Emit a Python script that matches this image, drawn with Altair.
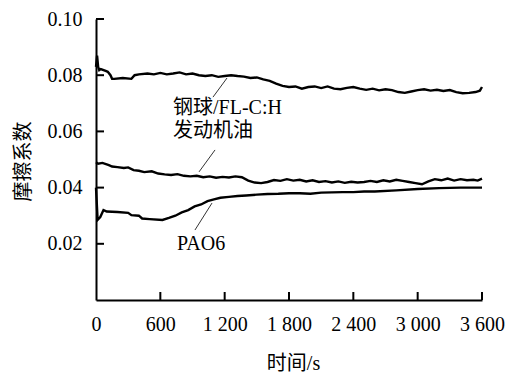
import altair as alt
import pandas as pd

# ---- data ----
t_top = [0, 10, 20, 30, 45, 90, 110, 135, 150, 170, 250, 330, 360, 400, 480, 540,
         600, 660, 720, 780, 840, 900, 960, 1020, 1080, 1140, 1200, 1260, 1320, 1380,
         1440, 1500, 1560, 1620, 1680, 1740, 1800, 1860, 1920, 1980, 2040, 2100, 2160,
         2220, 2280, 2340, 2400, 2460, 2520, 2580, 2640, 2700, 2760, 2820, 2880, 2940,
         3000, 3060, 3120, 3180, 3240, 3300, 3360, 3420, 3480, 3540, 3580, 3600]
v_top = [0.0830, 0.0870, 0.0830, 0.0818, 0.0822, 0.0815, 0.0812, 0.0800, 0.0787, 0.0787,
         0.0790, 0.0787, 0.0800, 0.0803, 0.0806, 0.0803, 0.0808, 0.0803, 0.0806, 0.0810,
         0.0803, 0.0806, 0.0800, 0.0797, 0.0800, 0.0794, 0.0797, 0.0800, 0.0797, 0.0795,
         0.0790, 0.0792, 0.0785, 0.0780, 0.0770, 0.0762, 0.0758, 0.0760, 0.0752, 0.0758,
         0.0760, 0.0754, 0.0760, 0.0752, 0.0750, 0.0755, 0.0758, 0.0752, 0.0748, 0.0752,
         0.0746, 0.0750, 0.0747, 0.0740, 0.0737, 0.0742, 0.0747, 0.0750, 0.0745, 0.0748,
         0.0744, 0.0747, 0.0740, 0.0736, 0.0737, 0.0740, 0.0745, 0.0758]

t_mid = [0, 20, 60, 120, 150, 200, 260, 300, 350, 400, 450, 520, 580, 640, 700, 760,
         820, 880, 940, 1000, 1060, 1120, 1180, 1240, 1300, 1360, 1420, 1480, 1540, 1600,
         1660, 1720, 1780, 1840, 1900, 1960, 2020, 2080, 2140, 2200, 2260, 2320, 2380,
         2440, 2500, 2560, 2620, 2680, 2740, 2800, 2860, 2920, 2980, 3040, 3100, 3160,
         3220, 3280, 3340, 3400, 3460, 3520, 3560, 3600]
v_mid = [0.0490, 0.0485, 0.0488, 0.0480, 0.0475, 0.0473, 0.0470, 0.0472, 0.0462, 0.0460,
         0.0455, 0.0458, 0.0450, 0.0447, 0.0445, 0.0448, 0.0442, 0.0440, 0.0442, 0.0437,
         0.0440, 0.0435, 0.0438, 0.0436, 0.0440, 0.0437, 0.0425, 0.0418, 0.0416, 0.0420,
         0.0427, 0.0424, 0.0430, 0.0425, 0.0428, 0.0422, 0.0426, 0.0420, 0.0423, 0.0418,
         0.0422, 0.0417, 0.0421, 0.0418, 0.0420, 0.0424, 0.0420, 0.0426, 0.0422, 0.0428,
         0.0424, 0.0420, 0.0416, 0.0412, 0.0422, 0.0430, 0.0426, 0.0432, 0.0425, 0.0430,
         0.0426, 0.0428, 0.0425, 0.0432]

t_low = [0, 15, 40, 70, 100, 200, 300, 330, 400, 430, 500, 620, 680, 740, 800, 860,
         920, 980, 1040, 1100, 1160, 1240, 1320, 1400, 1500, 1600, 1700, 1800, 1900,
         2000, 2100, 2200, 2300, 2400, 2500, 2600, 2800, 3000, 3200, 3400, 3600]
v_low = [0.0400, 0.0285, 0.0295, 0.0320, 0.0315, 0.0313, 0.0310, 0.0302, 0.0300, 0.0290,
         0.0288, 0.0285, 0.0292, 0.0300, 0.0312, 0.0320, 0.0333, 0.0340, 0.0352, 0.0358,
         0.0364, 0.0367, 0.0370, 0.0372, 0.0375, 0.0377, 0.0378, 0.0380, 0.0380, 0.0378,
         0.0382, 0.0383, 0.0384, 0.0384, 0.0386, 0.0386, 0.0390, 0.0395, 0.0398, 0.0400,
         0.0400]

x_ticks = [0, 600, 1200, 1800, 2400, 3000, 3600]
y_ticks = [0.02, 0.04, 0.06, 0.08, 0.10]

label_text = ["钢球/FL-C:H", "发动机油", "PAO6"]
label_t = [718, 718, 755]
label_v = [0.0682, 0.0602, 0.0200]

leader_t = [1222, 1110, 1082]
leader_v = [0.0790, 0.0534, 0.0345]
leader_t2 = [1091, 961, 923]
leader_v2 = [0.0722, 0.0456, 0.0249]

FONT = "'Liberation Serif', 'Times New Roman', 'Noto Sans CJK SC', serif"

rows = []
for name, ts, vs in [("top", t_top, v_top), ("mid", t_mid, v_mid), ("low", t_low, v_low)]:
    for t, v in zip(ts, vs):
        rows.append({"series": name, "t": t, "v": v})
df = pd.DataFrame(rows)

xscale = alt.Scale(domain=[0, 3600], nice=False, zero=False)
yscale = alt.Scale(domain=[0, 0.10], nice=False, zero=True)

common = dict(labelFont=FONT, labelFontSize=20, labelColor="black",
              titleFont=FONT, titleFontSize=20, titleColor="black", titleFontWeight="normal",
              domainColor="black", domainWidth=2, ticks=False, grid=False, labelFlush=False)

x_axis = alt.Axis(values=x_ticks, labelExpr="replace(format(datum.value, ','), ',', ' ')",
                  title="时间/s", titleX=197, titleY=63, titleBaseline="middle",
                  titleAnchor="start", titleAlign="center",
                  labelPadding=14, labelOverlap=False, **common)
y_axis = alt.Axis(values=y_ticks, format=".2f", title="摩擦系数",
                  titleX=-73, titleY=142, titleAngle=-90, titleBaseline="middle",
                  titleAlign="center", titleAnchor="start",
                  labelPadding=14, **common)

lines = alt.Chart(df).mark_line(color="black", strokeWidth=2.4).encode(
    x=alt.X("t:Q", scale=xscale, axis=x_axis),
    y=alt.Y("v:Q", scale=yscale, axis=y_axis),
    detail="series:N",
)

xt = alt.Chart(pd.DataFrame({"t": x_ticks[1:]})).mark_rule(color="black", strokeWidth=2).encode(
    x=alt.X("t:Q", scale=xscale), y=alt.value(281), y2=alt.value(273))
yt = alt.Chart(pd.DataFrame({"v": y_ticks})).mark_rule(color="black", strokeWidth=2).encode(
    y=alt.Y("v:Q", scale=yscale), x=alt.value(0), x2=alt.value(8))

ann = pd.DataFrame({"text": label_text, "t": label_t, "v": label_v})
texts = alt.Chart(ann).mark_text(align="left", baseline="middle", font=FONT,
                                 fontSize=20, color="black").encode(
    x=alt.X("t:Q", scale=xscale), y=alt.Y("v:Q", scale=yscale), text="text:N")

lead = pd.DataFrame({"t": leader_t, "v": leader_v, "t2": leader_t2, "v2": leader_v2})
leaders = alt.Chart(lead).mark_rule(color="black", strokeWidth=0.8).encode(
    x=alt.X("t:Q", scale=xscale), y=alt.Y("v:Q", scale=yscale), x2="t2:Q", y2="v2:Q")

chart = alt.layer(lines, xt, yt, leaders, texts).properties(
    width=386, height=281,
    autosize=alt.AutoSizeParams(type="none"),
    padding={"left": 88, "top": 11, "right": 25, "bottom": 75},
).configure_view(stroke=None)

chart.save("out.html", embed_options={"renderer": "svg", "actions": False})
